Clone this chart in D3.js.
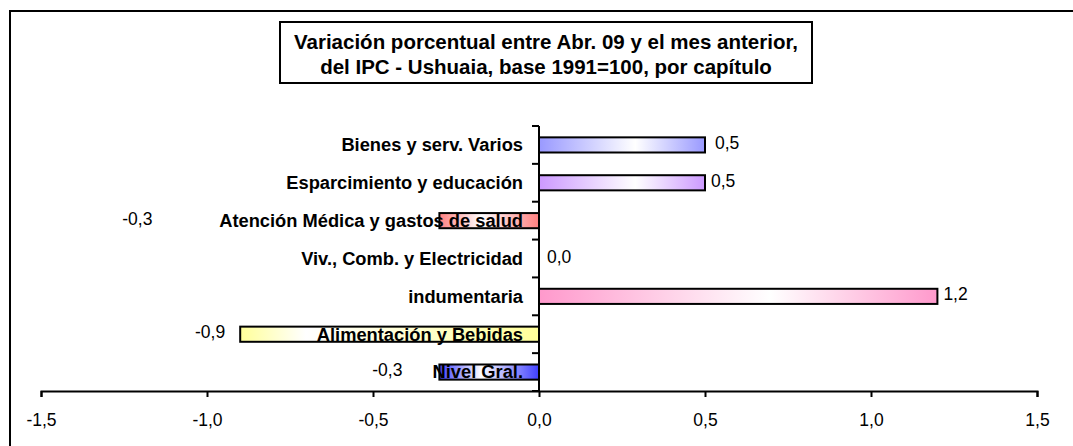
<!DOCTYPE html>
<html>
<head>
<meta charset="utf-8">
<script src="https://cdn.jsdelivr.net/npm/d3@7"></script>
<style>
  body { margin: 0; background: #fff; }
  svg { display: block; font-family: "Liberation Sans", Arial, sans-serif; }
</style>
</head>
<body>
<svg id="chart"></svg>
<script>
// data, bottom to top as in the sheet
const categories = ["Nivel Gral.", "Alimentación y Bebidas", "indumentaria", "Viv., Comb. y Electricidad",
  "Atención Médica y gastos de salud", "Esparcimiento y educación", "Bienes y serv. Varios"];
const values = [-0.3, -0.9, 1.2, 0.0, -0.3, 0.5, 0.5];
const barColors = ["#3f3fff", "#ffff99", "#ff99cc", "#ffffff", "#ff8080", "#cc99ff", "#9999ff"];
const xTicks = [-1.5, -1.0, -0.5, 0.0, 0.5, 1.0, 1.5];
const titleLines = ["Variación porcentual entre Abr. 09 y el mes anterior,", "del IPC - Ushuaia, base 1991=100, por capítulo"];

// layout
const w = 1073, h = 446;
const plot = {left: 41, right: 1037, top: 126, bottom: 391};
// excel moved some value labels by hand, these are pixel nudges from the default spot
const labelNudge = [-37, -15, 6, 8, -287, 6, 10];

const svg = d3.select('#chart').attr('width', w).attr('height', h);

const fmt = d3.formatLocale({decimal: ",", thousands: ".", grouping: [3], currency: ["$", ""], minus: "-"}).format(".1f");

const xScale = d3.scaleLinear().domain([-1.5, 1.5]).range([plot.left, plot.right]);
const yScale = d3.scaleBand()
  .domain(categories.slice().reverse())
  .range([plot.top, plot.bottom])
  .paddingInner(0.6)
  .paddingOuter(0.3);

// outer frame (runs off the page on the right and bottom)
svg.append('rect')
  .attr('x', 10).attr('y', 11)
  .attr('width', 1100).attr('height', 500)
  .attr('fill', 'none').attr('stroke', '#000').attr('stroke-width', 2);

// gradients, colour -> white -> colour, running away from zero
const defs = svg.append('defs');
categories.forEach((c, i) => {
  const g = defs.append('linearGradient')
    .attr('id', 'grad' + i)
    .attr('x1', values[i] < 0 ? 1 : 0).attr('x2', values[i] < 0 ? 0 : 1)
    .attr('y1', 0).attr('y2', 0);
  g.append('stop').attr('offset', 0).attr('stop-color', barColors[i]);
  g.append('stop').attr('offset', i == 1 ? 0.78 : 0.58).attr('stop-color', '#ffffff');
  g.append('stop').attr('offset', 1).attr('stop-color', barColors[i]);
});

const idx = categories.map((c, i) => i);

// bars
svg.append('g').selectAll('rect')
  .data(idx.filter(i => values[i] != 0))
  .enter()
  .append('rect')
  .attr('x', i => xScale(Math.min(0, values[i])))
  .attr('y', i => yScale(categories[i]))
  .attr('width', i => Math.abs(xScale(values[i]) - xScale(0)))
  .attr('height', yScale.bandwidth())
  .attr('fill', i => 'url(#grad' + i + ')')
  .attr('stroke', '#000')
  .attr('stroke-width', 2);

// x axis
const xAxis = d3.axisBottom(xScale)
  .tickValues(xTicks)
  .tickSize(6)
  .tickPadding(17)
  .tickFormat(fmt);
const gx = svg.append('g')
  .attr('transform', 'translate(0,' + plot.bottom + ')')
  .call(xAxis);
gx.select('.domain').attr('stroke-width', 2);
gx.selectAll('.tick line').attr('stroke-width', 2);
gx.selectAll('.tick text').attr('font-size', 17.5).attr('font-family', '"Liberation Sans", Arial, sans-serif');

// category axis at zero with band-boundary ticks
const x0 = xScale(0);
const step = yScale.step();
svg.append('line')
  .attr('x1', x0).attr('x2', x0)
  .attr('y1', plot.top).attr('y2', plot.bottom)
  .attr('stroke', '#000').attr('stroke-width', 2);
svg.append('g').selectAll('line')
  .data(d3.range(categories.length + 1))
  .enter()
  .append('line')
  .attr('x1', x0 - 7).attr('x2', x0)
  .attr('y1', k => plot.top + k * step)
  .attr('y2', k => plot.top + k * step)
  .attr('stroke', '#000').attr('stroke-width', 2);

// category labels (drawn over the bars like the original)
svg.append('g').selectAll('text')
  .data(idx)
  .enter()
  .append('text')
  .attr('x', x0 - 16)
  .attr('y', i => yScale(categories[i]) + yScale.bandwidth() / 2)
  .attr('dy', '0.35em')
  .attr('text-anchor', 'end')
  .attr('font-size', 18.3)
  .attr('font-weight', 'bold')
  .text(i => categories[i]);

// value labels
svg.append('g').selectAll('text')
  .data(idx)
  .enter()
  .append('text')
  .attr('x', i => xScale(values[i]) + labelNudge[i])
  .attr('y', i => yScale(categories[i]) + yScale.bandwidth() / 2 - 2)
  .attr('dy', '0.35em')
  .attr('text-anchor', i => values[i] < 0 ? 'end' : 'start')
  .attr('font-size', 17.5)
  .text(i => fmt(values[i]));

// title box
svg.append('rect')
  .attr('x', 280).attr('y', 22)
  .attr('width', 532).attr('height', 61)
  .attr('fill', '#fff').attr('stroke', '#000').attr('stroke-width', 2);
svg.append('g').selectAll('text')
  .data(titleLines)
  .enter()
  .append('text')
  .attr('x', 546)
  .attr('y', (d, i) => 49 + i * 25)
  .attr('text-anchor', 'middle')
  .attr('font-size', 20.5)
  .attr('font-weight', 'bold')
  .text(d => d);
</script>
</body>
</html>
